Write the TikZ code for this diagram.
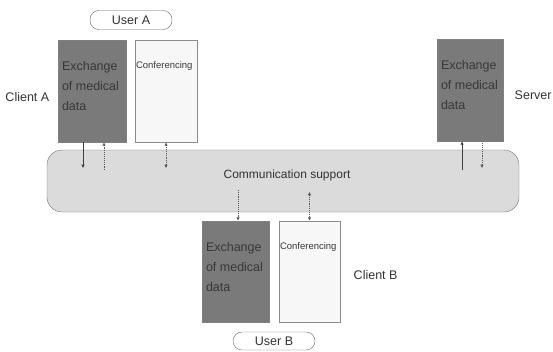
\documentclass[tikz,border=0pt]{standalone}
\usepackage{fontspec}
\setmainfont{Liberation Sans}
\usetikzlibrary{arrows.meta, positioning, calc}

\begin{document}
\begin{tikzpicture}[
    x=1pt, y=-1pt,
    >={Latex[length=3.5pt,width=3.5pt]},
    lbl/.style={text=black!80, font=\fontsize{12.5}{15}\selectfont},
    databox/.style={rectangle, draw=black!50, fill=black!52, inner sep=0pt,
                    minimum width=68pt, minimum height=102pt},
    datatext/.style={anchor=north west, align=left, inner sep=0pt, text=black!78,
                     xshift=4pt, yshift=-21pt, font=\fontsize{12.5}{20}\selectfont},
    confbox/.style={rectangle, draw=black!45, fill=black!3, inner sep=0pt,
                    minimum width=62pt, minimum height=102pt},
    conftext/.style={anchor=north west, inner sep=0pt, text=black!78,
                     xshift=1pt, yshift=-22pt, font=\fontsize{9.5}{11}\selectfont},
    commbox/.style={rectangle, rounded corners=15pt, draw=black!55, fill=black!14,
                    minimum width=472pt, minimum height=62pt, inner sep=0pt},
    pill/.style={rectangle, rounded corners=9pt, draw=black!60, fill=white,
                 minimum width=82pt, minimum height=19pt, inner sep=0pt, lbl},
    solidarr/.style={->, line width=0.9pt, draw=black!75},
    dotarr/.style={->, densely dotted, line width=0.9pt, draw=black!65}
]
  \useasboundingbox (0,0) rectangle (553,351);

  % communication layer
  \node[commbox, label={[lbl, font=\fontsize{12}{14}\selectfont, xshift=4pt, yshift=6pt]center:Communication support}]
        (comm) at (283,181) {};

  % client A
  \node[databox, label={[datatext]north west:Exchange\\of medical\\data}] (exA)   at (92,91)  {};
  \node[confbox, label={[conftext]north west:Conferencing}]                (confA) at (166,91) {};
  \node[lbl, left=5pt of exA, yshift=-6pt] (clientA) {Client A};
  \node[pill] (userA) at (131,20) {User A};

  % server
  \node[databox, minimum width=66pt, label={[datatext]north west:Exchange\\of medical\\data}] (srv) at (470,90) {};
  \node[lbl, right=8pt of srv, yshift=-5pt] (server) {Server};

  % client B
  \node[databox, minimum width=67pt, minimum height=101pt,
        label={[datatext]north west:Exchange\\of medical\\data}] (exB) at (235.5,271.5) {};
  \node[confbox, minimum width=61pt, minimum height=101pt,
        label={[conftext]north west:Conferencing}] (confB) at (309.5,271.5) {};
  \node[lbl, right=10pt of confB, yshift=-4pt] (clientB) {Client B};
  \node[pill, minimum height=18pt] (userB) at (274,341) {User B};

  % flows to and from the communication layer
  \draw[solidarr] ([xshift=-9pt]exA.south) -- ++(0,26);
  \draw[dotarr] ([xshift=12pt,yshift=-28pt]exA.south) -- ([xshift=12pt]exA.south);
  \draw[dotarr, <->] ([yshift=-26pt]confA.south) -- (confA.south);

  \draw[solidarr] ([xshift=-8pt,yshift=-29pt]srv.south) -- ([xshift=-8pt]srv.south);
  \draw[dotarr] ([xshift=12pt]srv.south) -- ++(0,27);

  \draw[dotarr] ([xshift=2.5pt,yshift=31pt]exB.north) -- ([xshift=2.5pt]exB.north);
  \draw[dotarr, <->] ([yshift=29pt]confB.north) -- (confB.north);
\end{tikzpicture}
\end{document}
